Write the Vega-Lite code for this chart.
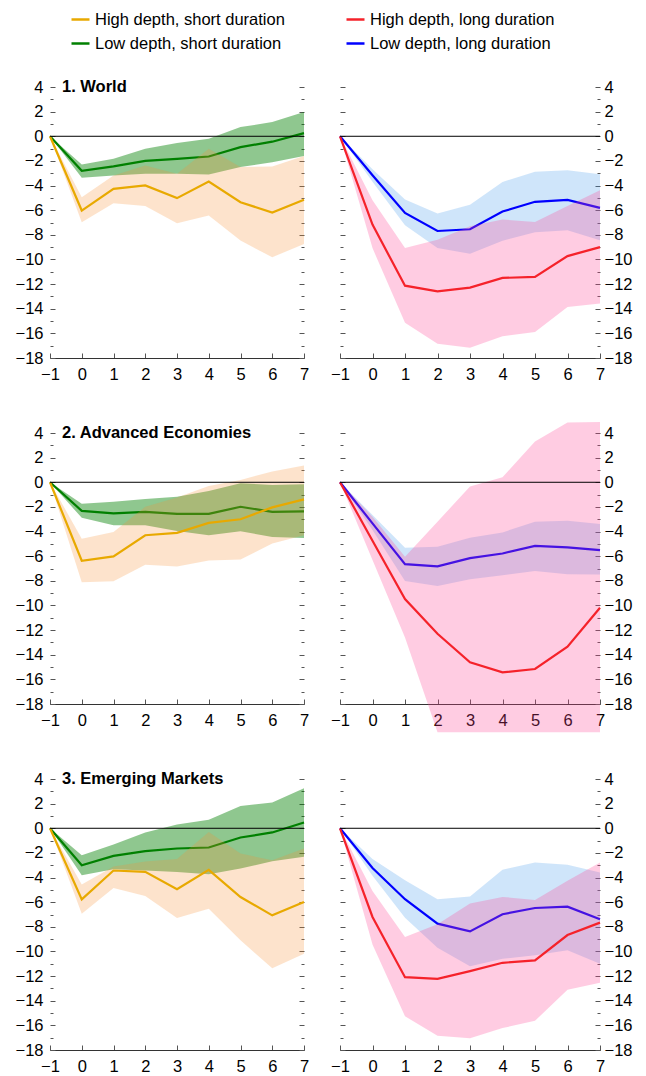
{
  "$schema": "https://vega.github.io/schema/vega-lite/v6.json",
  "padding": {"left": 15, "top": 9, "right": 5, "bottom": 5},
  "columns": 2,
  "bounds": "flush",
  "align": "each",
  "spacing": {"row": 75, "column": 36},
  "datasets": {
    "irf": [
      {"region": "World", "series": "Low depth, short duration", "horizon": -1, "est": 0, "lo": 0, "hi": 0},
      {"region": "World", "series": "Low depth, short duration", "horizon": 0, "est": -2.8, "lo": -3.37, "hi": -2.29},
      {"region": "World", "series": "Low depth, short duration", "horizon": 1, "est": -2.45, "lo": -3.18, "hi": -1.83},
      {"region": "World", "series": "Low depth, short duration", "horizon": 2, "est": -2.0, "lo": -3.05, "hi": -1.01},
      {"region": "World", "series": "Low depth, short duration", "horizon": 3, "est": -1.83, "lo": -3.05, "hi": -0.55},
      {"region": "World", "series": "Low depth, short duration", "horizon": 4, "est": -1.64, "lo": -3.1, "hi": -0.2},
      {"region": "World", "series": "Low depth, short duration", "horizon": 5, "est": -0.88, "lo": -2.5, "hi": 0.75},
      {"region": "World", "series": "Low depth, short duration", "horizon": 6, "est": -0.44, "lo": -2.1, "hi": 1.15},
      {"region": "World", "series": "Low depth, short duration", "horizon": 7, "est": 0.26, "lo": -1.6, "hi": 1.97},
      {"region": "World", "series": "High depth, short duration", "horizon": -1, "est": 0, "lo": 0, "hi": 0},
      {"region": "World", "series": "High depth, short duration", "horizon": 0, "est": -6.03, "lo": -6.98, "hi": -4.94},
      {"region": "World", "series": "High depth, short duration", "horizon": 1, "est": -4.27, "lo": -5.43, "hi": -3.18},
      {"region": "World", "series": "High depth, short duration", "horizon": 2, "est": -3.99, "lo": -5.67, "hi": -2.37},
      {"region": "World", "series": "High depth, short duration", "horizon": 3, "est": -5.02, "lo": -7.06, "hi": -3.05},
      {"region": "World", "series": "High depth, short duration", "horizon": 4, "est": -3.67, "lo": -6.43, "hi": -1.01},
      {"region": "World", "series": "High depth, short duration", "horizon": 5, "est": -5.35, "lo": -8.47, "hi": -2.5},
      {"region": "World", "series": "High depth, short duration", "horizon": 6, "est": -6.19, "lo": -9.82, "hi": -2.45},
      {"region": "World", "series": "High depth, short duration", "horizon": 7, "est": -5.16, "lo": -8.74, "hi": -1.6},
      {"region": "World", "series": "Low depth, long duration", "horizon": -1, "est": 0, "lo": 0, "hi": 0},
      {"region": "World", "series": "Low depth, long duration", "horizon": 0, "est": -3.17, "lo": -3.7, "hi": -2.68},
      {"region": "World", "series": "Low depth, long duration", "horizon": 1, "est": -6.22, "lo": -7.23, "hi": -5.13},
      {"region": "World", "series": "Low depth, long duration", "horizon": 2, "est": -7.69, "lo": -9.08, "hi": -6.27},
      {"region": "World", "series": "Low depth, long duration", "horizon": 3, "est": -7.55, "lo": -9.54, "hi": -5.56},
      {"region": "World", "series": "Low depth, long duration", "horizon": 4, "est": -6.11, "lo": -8.48, "hi": -3.71},
      {"region": "World", "series": "Low depth, long duration", "horizon": 5, "est": -5.32, "lo": -7.8, "hi": -2.87},
      {"region": "World", "series": "Low depth, long duration", "horizon": 6, "est": -5.16, "lo": -7.63, "hi": -2.76},
      {"region": "World", "series": "Low depth, long duration", "horizon": 7, "est": -5.81, "lo": -8.45, "hi": -3.08},
      {"region": "World", "series": "High depth, long duration", "horizon": -1, "est": 0, "lo": 0, "hi": 0},
      {"region": "World", "series": "High depth, long duration", "horizon": 0, "est": -7.17, "lo": -9.08, "hi": -5.2},
      {"region": "World", "series": "High depth, long duration", "horizon": 1, "est": -12.13, "lo": -15.13, "hi": -9.08},
      {"region": "World", "series": "High depth, long duration", "horizon": 2, "est": -12.59, "lo": -16.84, "hi": -8.4},
      {"region": "World", "series": "High depth, long duration", "horizon": 3, "est": -12.29, "lo": -17.17, "hi": -7.3},
      {"region": "World", "series": "High depth, long duration", "horizon": 4, "est": -11.5, "lo": -16.24, "hi": -6.76},
      {"region": "World", "series": "High depth, long duration", "horizon": 5, "est": -11.42, "lo": -15.89, "hi": -6.95},
      {"region": "World", "series": "High depth, long duration", "horizon": 6, "est": -9.73, "lo": -13.85, "hi": -5.67},
      {"region": "World", "series": "High depth, long duration", "horizon": 7, "est": -9.0, "lo": -13.57, "hi": -4.39},

      {"region": "AE", "series": "Low depth, short duration", "horizon": -1, "est": 0, "lo": 0, "hi": 0},
      {"region": "AE", "series": "Low depth, short duration", "horizon": 0, "est": -2.32, "lo": -2.89, "hi": -1.74},
      {"region": "AE", "series": "Low depth, short duration", "horizon": 1, "est": -2.53, "lo": -3.49, "hi": -1.58},
      {"region": "AE", "series": "Low depth, short duration", "horizon": 2, "est": -2.4, "lo": -3.49, "hi": -1.36},
      {"region": "AE", "series": "Low depth, short duration", "horizon": 3, "est": -2.56, "lo": -3.95, "hi": -1.17},
      {"region": "AE", "series": "Low depth, short duration", "horizon": 4, "est": -2.56, "lo": -4.3, "hi": -0.71},
      {"region": "AE", "series": "Low depth, short duration", "horizon": 5, "est": -1.99, "lo": -3.98, "hi": -0.08},
      {"region": "AE", "series": "Low depth, short duration", "horizon": 6, "est": -2.4, "lo": -4.44, "hi": -0.22},
      {"region": "AE", "series": "Low depth, short duration", "horizon": 7, "est": -2.37, "lo": -4.52, "hi": -0.17},
      {"region": "AE", "series": "High depth, short duration", "horizon": -1, "est": 0, "lo": 0, "hi": 0},
      {"region": "AE", "series": "High depth, short duration", "horizon": 0, "est": -6.37, "lo": -8.12, "hi": -4.58},
      {"region": "AE", "series": "High depth, short duration", "horizon": 1, "est": -6.02, "lo": -8.03, "hi": -4.03},
      {"region": "AE", "series": "High depth, short duration", "horizon": 2, "est": -4.3, "lo": -6.7, "hi": -1.99},
      {"region": "AE", "series": "High depth, short duration", "horizon": 3, "est": -4.11, "lo": -6.84, "hi": -1.23},
      {"region": "AE", "series": "High depth, short duration", "horizon": 4, "est": -3.3, "lo": -6.35, "hi": -0.3},
      {"region": "AE", "series": "High depth, short duration", "horizon": 5, "est": -3.0, "lo": -6.26, "hi": 0.19},
      {"region": "AE", "series": "High depth, short duration", "horizon": 6, "est": -2.04, "lo": -4.98, "hi": 0.87},
      {"region": "AE", "series": "High depth, short duration", "horizon": 7, "est": -1.39, "lo": -4.3, "hi": 1.36},
      {"region": "AE", "series": "Low depth, long duration", "horizon": -1, "est": 0, "lo": 0, "hi": 0},
      {"region": "AE", "series": "Low depth, long duration", "horizon": 0, "est": -3.34, "lo": -3.88, "hi": -2.66},
      {"region": "AE", "series": "Low depth, long duration", "horizon": 1, "est": -6.65, "lo": -8.01, "hi": -5.32},
      {"region": "AE", "series": "Low depth, long duration", "horizon": 2, "est": -6.82, "lo": -8.42, "hi": -5.24},
      {"region": "AE", "series": "Low depth, long duration", "horizon": 3, "est": -6.16, "lo": -7.88, "hi": -4.5},
      {"region": "AE", "series": "Low depth, long duration", "horizon": 4, "est": -5.78, "lo": -7.55, "hi": -4.07},
      {"region": "AE", "series": "Low depth, long duration", "horizon": 5, "est": -5.16, "lo": -7.2, "hi": -3.2},
      {"region": "AE", "series": "Low depth, long duration", "horizon": 6, "est": -5.29, "lo": -7.47, "hi": -3.12},
      {"region": "AE", "series": "Low depth, long duration", "horizon": 7, "est": -5.51, "lo": -7.49, "hi": -3.39},
      {"region": "AE", "series": "High depth, long duration", "horizon": -1, "est": 0, "lo": 0, "hi": 0},
      {"region": "AE", "series": "High depth, long duration", "horizon": 0, "est": -4.75, "lo": -6.3, "hi": -2.8},
      {"region": "AE", "series": "High depth, long duration", "horizon": 1, "est": -9.48, "lo": -12.6, "hi": -6.05},
      {"region": "AE", "series": "High depth, long duration", "horizon": 2, "est": -12.3, "lo": -20.3, "hi": -3.2},
      {"region": "AE", "series": "High depth, long duration", "horizon": 3, "est": -14.61, "lo": -20.3, "hi": -0.35},
      {"region": "AE", "series": "High depth, long duration", "horizon": 4, "est": -15.43, "lo": -20.3, "hi": 0.41},
      {"region": "AE", "series": "High depth, long duration", "horizon": 5, "est": -15.16, "lo": -20.3, "hi": 3.32},
      {"region": "AE", "series": "High depth, long duration", "horizon": 6, "est": -13.34, "lo": -20.3, "hi": 4.85},
      {"region": "AE", "series": "High depth, long duration", "horizon": 7, "est": -10.18, "lo": -20.3, "hi": 4.9},

      {"region": "EM", "series": "Low depth, short duration", "horizon": -1, "est": 0, "lo": 0, "hi": 0},
      {"region": "EM", "series": "Low depth, short duration", "horizon": 0, "est": -3.0, "lo": -3.81, "hi": -2.19},
      {"region": "EM", "series": "Low depth, short duration", "horizon": 1, "est": -2.24, "lo": -3.32, "hi": -1.32},
      {"region": "EM", "series": "Low depth, short duration", "horizon": 2, "est": -1.86, "lo": -3.43, "hi": -0.34},
      {"region": "EM", "series": "Low depth, short duration", "horizon": 3, "est": -1.64, "lo": -3.54, "hi": 0.31},
      {"region": "EM", "series": "Low depth, short duration", "horizon": 4, "est": -1.56, "lo": -3.73, "hi": 0.69},
      {"region": "EM", "series": "Low depth, short duration", "horizon": 5, "est": -0.75, "lo": -3.27, "hi": 1.8},
      {"region": "EM", "series": "Low depth, short duration", "horizon": 6, "est": -0.34, "lo": -2.67, "hi": 2.1},
      {"region": "EM", "series": "Low depth, short duration", "horizon": 7, "est": 0.47, "lo": -2.32, "hi": 3.24},
      {"region": "EM", "series": "High depth, short duration", "horizon": -1, "est": 0, "lo": 0, "hi": 0},
      {"region": "EM", "series": "High depth, short duration", "horizon": 0, "est": -5.77, "lo": -6.93, "hi": -4.57},
      {"region": "EM", "series": "High depth, short duration", "horizon": 1, "est": -3.43, "lo": -4.84, "hi": -3.1},
      {"region": "EM", "series": "High depth, short duration", "horizon": 2, "est": -3.54, "lo": -5.5, "hi": -2.7},
      {"region": "EM", "series": "High depth, short duration", "horizon": 3, "est": -4.95, "lo": -7.29, "hi": -2.5},
      {"region": "EM", "series": "High depth, short duration", "horizon": 4, "est": -3.38, "lo": -6.53, "hi": -0.3},
      {"region": "EM", "series": "High depth, short duration", "horizon": 5, "est": -5.58, "lo": -9.1, "hi": -2.05},
      {"region": "EM", "series": "High depth, short duration", "horizon": 6, "est": -7.07, "lo": -11.36, "hi": -2.6},
      {"region": "EM", "series": "High depth, short duration", "horizon": 7, "est": -5.98, "lo": -10.19, "hi": -1.65},
      {"region": "EM", "series": "Low depth, long duration", "horizon": -1, "est": 0, "lo": 0, "hi": 0},
      {"region": "EM", "series": "Low depth, long duration", "horizon": 0, "est": -3.23, "lo": -3.86, "hi": -2.5},
      {"region": "EM", "series": "Low depth, long duration", "horizon": 1, "est": -5.76, "lo": -7.26, "hi": -4.21},
      {"region": "EM", "series": "Low depth, long duration", "horizon": 2, "est": -7.74, "lo": -9.7, "hi": -5.76},
      {"region": "EM", "series": "Low depth, long duration", "horizon": 3, "est": -8.37, "lo": -11.2, "hi": -5.54},
      {"region": "EM", "series": "Low depth, long duration", "horizon": 4, "est": -6.98, "lo": -10.6, "hi": -3.37},
      {"region": "EM", "series": "Low depth, long duration", "horizon": 5, "est": -6.47, "lo": -10.3, "hi": -2.77},
      {"region": "EM", "series": "Low depth, long duration", "horizon": 6, "est": -6.36, "lo": -9.9, "hi": -2.96},
      {"region": "EM", "series": "Low depth, long duration", "horizon": 7, "est": -7.39, "lo": -11.0, "hi": -3.59},
      {"region": "EM", "series": "High depth, long duration", "horizon": -1, "est": 0, "lo": 0, "hi": 0},
      {"region": "EM", "series": "High depth, long duration", "horizon": 0, "est": -7.2, "lo": -9.43, "hi": -5.1},
      {"region": "EM", "series": "High depth, long duration", "horizon": 1, "est": -12.09, "lo": -15.27, "hi": -8.83},
      {"region": "EM", "series": "High depth, long duration", "horizon": 2, "est": -12.23, "lo": -16.85, "hi": -7.8},
      {"region": "EM", "series": "High depth, long duration", "horizon": 3, "est": -11.6, "lo": -17.04, "hi": -6.11},
      {"region": "EM", "series": "High depth, long duration", "horizon": 4, "est": -10.92, "lo": -16.22, "hi": -5.57},
      {"region": "EM", "series": "High depth, long duration", "horizon": 5, "est": -10.73, "lo": -15.63, "hi": -5.82},
      {"region": "EM", "series": "High depth, long duration", "horizon": 6, "est": -8.67, "lo": -13.1, "hi": -4.27},
      {"region": "EM", "series": "High depth, long duration", "horizon": 7, "est": -7.66, "lo": -12.55, "hi": -2.77}
    ]
  },
  "concat": [
    {
      "title": "1. World", "width": 254, "height": 271,
      "data": {"name": "irf"},
      "transform": [{"filter": "datum.region == 'World'"}],
      "resolve": {"axis": {"y": "independent"}},
      "layer": [
        {"transform": [{"filter": "datum.series == 'Low depth, short duration'"}], "mark": {"type": "area", "fill": "#008000", "fillOpacity": 0.44},
         "encoding": {"x": {"field": "horizon", "type": "quantitative", "title": null, "scale": {"domain": [-1, 7], "nice": false, "zero": false}},
           "y": {"field": "lo", "type": "quantitative", "title": null, "scale": {"domain": [-18, 4], "nice": false, "zero": false},
             "axis": {"orient": "left", "values": [-18,-17,-16,-15,-14,-13,-12,-11,-10,-9,-8,-7,-6,-5,-4,-3,-2,-1,0,1,2,3,4], "labelExpr": "datum.value % 2 ? '' : datum.label", "tickSize": {"condition": {"test": "datum.value % 2 != 0", "value": -3}, "value": -5}, "labelPadding": 12}},
           "y2": {"field": "hi"}}},
        {"transform": [{"filter": "datum.series == 'Low depth, short duration'"}], "mark": {"type": "line", "strokeWidth": 2.2},
         "encoding": {"x": {"field": "horizon", "type": "quantitative", "title": null, "scale": {"domain": [-1, 7], "nice": false, "zero": false}},
           "y": {"field": "est", "type": "quantitative", "title": null, "scale": {"domain": [-18, 4], "nice": false, "zero": false},
             "axis": {"orient": "right", "values": [-18,-17,-16,-15,-14,-13,-12,-11,-10,-9,-8,-7,-6,-5,-4,-3,-2,-1,0,1,2,3,4], "labels": false, "tickSize": {"condition": {"test": "datum.value % 2 != 0", "value": -3}, "value": -5}}},
           "stroke": {"field": "series", "type": "nominal", "title": null, "scale": {"domain": ["High depth, short duration", "Low depth, short duration", "High depth, long duration", "Low depth, long duration"], "range": ["#E8A900", "#008000", "#F5222A", "#0000FF"]},
             "legend": {"orient": "none", "legendX": 20, "legendY": -78, "columns": 2}}}},
        {"transform": [{"filter": "datum.series == 'High depth, short duration'"}], "mark": {"type": "area", "fill": "#F78F33", "fillOpacity": 0.25},
         "encoding": {"x": {"field": "horizon", "type": "quantitative", "title": null, "scale": {"domain": [-1, 7], "nice": false, "zero": false}},
           "y": {"field": "lo", "type": "quantitative", "title": null, "scale": {"domain": [-18, 4], "nice": false, "zero": false}, "axis": null},
           "y2": {"field": "hi"}}},
        {"transform": [{"filter": "datum.series == 'High depth, short duration'"}], "mark": {"type": "line", "strokeWidth": 2.2},
         "encoding": {"x": {"field": "horizon", "type": "quantitative", "title": null, "scale": {"domain": [-1, 7], "nice": false, "zero": false}},
           "y": {"field": "est", "type": "quantitative", "title": null, "scale": {"domain": [-18, 4], "nice": false, "zero": false}, "axis": null},
           "stroke": {"field": "series", "type": "nominal", "title": null}}},
        {"data": {"values": [{}]}, "mark": {"type": "rule", "color": "black", "strokeWidth": 1},
         "encoding": {"y": {"datum": 0, "scale": {"domain": [-18, 4], "nice": false, "zero": false}, "axis": null}}}
      ]
    },
    {
      "width": 260, "height": 271,
      "data": {"name": "irf"},
      "transform": [{"filter": "datum.region == 'World'"}],
      "resolve": {"axis": {"y": "independent"}},
      "layer": [
        {"transform": [{"filter": "datum.series == 'Low depth, long duration'"}], "mark": {"type": "area", "fill": "#3F97EB", "fillOpacity": 0.25},
         "encoding": {"x": {"field": "horizon", "type": "quantitative", "title": null, "scale": {"domain": [-1, 7], "nice": false, "zero": false}},
           "y": {"field": "lo", "type": "quantitative", "title": null, "scale": {"domain": [-18, 4], "nice": false, "zero": false},
             "axis": {"orient": "left", "values": [-18,-17,-16,-15,-14,-13,-12,-11,-10,-9,-8,-7,-6,-5,-4,-3,-2,-1,0,1,2,3,4], "labels": false, "tickSize": {"condition": {"test": "datum.value % 2 != 0", "value": -3}, "value": -5}}},
           "y2": {"field": "hi"}}},
        {"transform": [{"filter": "datum.series == 'Low depth, long duration'"}], "mark": {"type": "line", "strokeWidth": 2.2},
         "encoding": {"x": {"field": "horizon", "type": "quantitative", "title": null, "scale": {"domain": [-1, 7], "nice": false, "zero": false}},
           "y": {"field": "est", "type": "quantitative", "title": null, "scale": {"domain": [-18, 4], "nice": false, "zero": false},
             "axis": {"orient": "right", "values": [-18,-17,-16,-15,-14,-13,-12,-11,-10,-9,-8,-7,-6,-5,-4,-3,-2,-1,0,1,2,3,4], "labelExpr": "datum.value % 2 ? '' : datum.label", "tickSize": {"condition": {"test": "datum.value % 2 != 0", "value": -3}, "value": -5}, "labelPadding": 9}},
           "stroke": {"field": "series", "type": "nominal", "title": null}}},
        {"transform": [{"filter": "datum.series == 'High depth, long duration'"}], "mark": {"type": "area", "fill": "#FF4294", "fillOpacity": 0.27},
         "encoding": {"x": {"field": "horizon", "type": "quantitative", "title": null, "scale": {"domain": [-1, 7], "nice": false, "zero": false}},
           "y": {"field": "lo", "type": "quantitative", "title": null, "scale": {"domain": [-18, 4], "nice": false, "zero": false}, "axis": null},
           "y2": {"field": "hi"}}},
        {"transform": [{"filter": "datum.series == 'High depth, long duration'"}], "mark": {"type": "line", "strokeWidth": 2.2},
         "encoding": {"x": {"field": "horizon", "type": "quantitative", "title": null, "scale": {"domain": [-1, 7], "nice": false, "zero": false}},
           "y": {"field": "est", "type": "quantitative", "title": null, "scale": {"domain": [-18, 4], "nice": false, "zero": false}, "axis": null},
           "stroke": {"field": "series", "type": "nominal", "title": null}}},
        {"data": {"values": [{}]}, "mark": {"type": "rule", "color": "black", "strokeWidth": 1},
         "encoding": {"y": {"datum": 0, "scale": {"domain": [-18, 4], "nice": false, "zero": false}, "axis": null}}}
      ]
    },
    {
      "title": "2. Advanced Economies", "width": 254, "height": 271,
      "data": {"name": "irf"},
      "transform": [{"filter": "datum.region == 'AE'"}],
      "resolve": {"axis": {"y": "independent"}},
      "layer": [
        {"transform": [{"filter": "datum.series == 'Low depth, short duration'"}], "mark": {"type": "area", "fill": "#008000", "fillOpacity": 0.44},
         "encoding": {"x": {"field": "horizon", "type": "quantitative", "title": null, "scale": {"domain": [-1, 7], "nice": false, "zero": false}},
           "y": {"field": "lo", "type": "quantitative", "title": null, "scale": {"domain": [-18, 4], "nice": false, "zero": false},
             "axis": {"orient": "left", "values": [-18,-17,-16,-15,-14,-13,-12,-11,-10,-9,-8,-7,-6,-5,-4,-3,-2,-1,0,1,2,3,4], "labelExpr": "datum.value % 2 ? '' : datum.label", "tickSize": {"condition": {"test": "datum.value % 2 != 0", "value": -3}, "value": -5}, "labelPadding": 12}},
           "y2": {"field": "hi"}}},
        {"transform": [{"filter": "datum.series == 'Low depth, short duration'"}], "mark": {"type": "line", "strokeWidth": 2.2},
         "encoding": {"x": {"field": "horizon", "type": "quantitative", "title": null, "scale": {"domain": [-1, 7], "nice": false, "zero": false}},
           "y": {"field": "est", "type": "quantitative", "title": null, "scale": {"domain": [-18, 4], "nice": false, "zero": false},
             "axis": {"orient": "right", "values": [-18,-17,-16,-15,-14,-13,-12,-11,-10,-9,-8,-7,-6,-5,-4,-3,-2,-1,0,1,2,3,4], "labels": false, "tickSize": {"condition": {"test": "datum.value % 2 != 0", "value": -3}, "value": -5}}},
           "stroke": {"field": "series", "type": "nominal", "title": null}}},
        {"transform": [{"filter": "datum.series == 'High depth, short duration'"}], "mark": {"type": "area", "fill": "#F78F33", "fillOpacity": 0.25},
         "encoding": {"x": {"field": "horizon", "type": "quantitative", "title": null, "scale": {"domain": [-1, 7], "nice": false, "zero": false}},
           "y": {"field": "lo", "type": "quantitative", "title": null, "scale": {"domain": [-18, 4], "nice": false, "zero": false}, "axis": null},
           "y2": {"field": "hi"}}},
        {"transform": [{"filter": "datum.series == 'High depth, short duration'"}], "mark": {"type": "line", "strokeWidth": 2.2},
         "encoding": {"x": {"field": "horizon", "type": "quantitative", "title": null, "scale": {"domain": [-1, 7], "nice": false, "zero": false}},
           "y": {"field": "est", "type": "quantitative", "title": null, "scale": {"domain": [-18, 4], "nice": false, "zero": false}, "axis": null},
           "stroke": {"field": "series", "type": "nominal", "title": null}}},
        {"data": {"values": [{}]}, "mark": {"type": "rule", "color": "black", "strokeWidth": 1},
         "encoding": {"y": {"datum": 0, "scale": {"domain": [-18, 4], "nice": false, "zero": false}, "axis": null}}}
      ]
    },
    {
      "width": 260, "height": 271,
      "data": {"name": "irf"},
      "transform": [{"filter": "datum.region == 'AE'"}],
      "resolve": {"axis": {"y": "independent"}},
      "layer": [
        {"transform": [{"filter": "datum.series == 'Low depth, long duration'"}], "mark": {"type": "area", "fill": "#3F97EB", "fillOpacity": 0.25},
         "encoding": {"x": {"field": "horizon", "type": "quantitative", "title": null, "scale": {"domain": [-1, 7], "nice": false, "zero": false}},
           "y": {"field": "lo", "type": "quantitative", "title": null, "scale": {"domain": [-18, 4], "nice": false, "zero": false},
             "axis": {"orient": "left", "values": [-18,-17,-16,-15,-14,-13,-12,-11,-10,-9,-8,-7,-6,-5,-4,-3,-2,-1,0,1,2,3,4], "labels": false, "tickSize": {"condition": {"test": "datum.value % 2 != 0", "value": -3}, "value": -5}}},
           "y2": {"field": "hi"}}},
        {"transform": [{"filter": "datum.series == 'Low depth, long duration'"}], "mark": {"type": "line", "strokeWidth": 2.2},
         "encoding": {"x": {"field": "horizon", "type": "quantitative", "title": null, "scale": {"domain": [-1, 7], "nice": false, "zero": false}},
           "y": {"field": "est", "type": "quantitative", "title": null, "scale": {"domain": [-18, 4], "nice": false, "zero": false},
             "axis": {"orient": "right", "values": [-18,-17,-16,-15,-14,-13,-12,-11,-10,-9,-8,-7,-6,-5,-4,-3,-2,-1,0,1,2,3,4], "labelExpr": "datum.value % 2 ? '' : datum.label", "tickSize": {"condition": {"test": "datum.value % 2 != 0", "value": -3}, "value": -5}, "labelPadding": 9}},
           "stroke": {"field": "series", "type": "nominal", "title": null}}},
        {"transform": [{"filter": "datum.series == 'High depth, long duration'"}], "mark": {"type": "area", "fill": "#FF4294", "fillOpacity": 0.27},
         "encoding": {"x": {"field": "horizon", "type": "quantitative", "title": null, "scale": {"domain": [-1, 7], "nice": false, "zero": false}},
           "y": {"field": "lo", "type": "quantitative", "title": null, "scale": {"domain": [-18, 4], "nice": false, "zero": false}, "axis": null},
           "y2": {"field": "hi"}}},
        {"transform": [{"filter": "datum.series == 'High depth, long duration'"}], "mark": {"type": "line", "strokeWidth": 2.2},
         "encoding": {"x": {"field": "horizon", "type": "quantitative", "title": null, "scale": {"domain": [-1, 7], "nice": false, "zero": false}},
           "y": {"field": "est", "type": "quantitative", "title": null, "scale": {"domain": [-18, 4], "nice": false, "zero": false}, "axis": null},
           "stroke": {"field": "series", "type": "nominal", "title": null}}},
        {"data": {"values": [{}]}, "mark": {"type": "rule", "color": "black", "strokeWidth": 1},
         "encoding": {"y": {"datum": 0, "scale": {"domain": [-18, 4], "nice": false, "zero": false}, "axis": null}}}
      ]
    },
    {
      "title": "3. Emerging Markets", "width": 254, "height": 271,
      "data": {"name": "irf"},
      "transform": [{"filter": "datum.region == 'EM'"}],
      "resolve": {"axis": {"y": "independent"}},
      "layer": [
        {"transform": [{"filter": "datum.series == 'Low depth, short duration'"}], "mark": {"type": "area", "fill": "#008000", "fillOpacity": 0.44},
         "encoding": {"x": {"field": "horizon", "type": "quantitative", "title": null, "scale": {"domain": [-1, 7], "nice": false, "zero": false}},
           "y": {"field": "lo", "type": "quantitative", "title": null, "scale": {"domain": [-18, 4], "nice": false, "zero": false},
             "axis": {"orient": "left", "values": [-18,-17,-16,-15,-14,-13,-12,-11,-10,-9,-8,-7,-6,-5,-4,-3,-2,-1,0,1,2,3,4], "labelExpr": "datum.value % 2 ? '' : datum.label", "tickSize": {"condition": {"test": "datum.value % 2 != 0", "value": -3}, "value": -5}, "labelPadding": 12}},
           "y2": {"field": "hi"}}},
        {"transform": [{"filter": "datum.series == 'Low depth, short duration'"}], "mark": {"type": "line", "strokeWidth": 2.2},
         "encoding": {"x": {"field": "horizon", "type": "quantitative", "title": null, "scale": {"domain": [-1, 7], "nice": false, "zero": false}},
           "y": {"field": "est", "type": "quantitative", "title": null, "scale": {"domain": [-18, 4], "nice": false, "zero": false},
             "axis": {"orient": "right", "values": [-18,-17,-16,-15,-14,-13,-12,-11,-10,-9,-8,-7,-6,-5,-4,-3,-2,-1,0,1,2,3,4], "labels": false, "tickSize": {"condition": {"test": "datum.value % 2 != 0", "value": -3}, "value": -5}}},
           "stroke": {"field": "series", "type": "nominal", "title": null}}},
        {"transform": [{"filter": "datum.series == 'High depth, short duration'"}], "mark": {"type": "area", "fill": "#F78F33", "fillOpacity": 0.25},
         "encoding": {"x": {"field": "horizon", "type": "quantitative", "title": null, "scale": {"domain": [-1, 7], "nice": false, "zero": false}},
           "y": {"field": "lo", "type": "quantitative", "title": null, "scale": {"domain": [-18, 4], "nice": false, "zero": false}, "axis": null},
           "y2": {"field": "hi"}}},
        {"transform": [{"filter": "datum.series == 'High depth, short duration'"}], "mark": {"type": "line", "strokeWidth": 2.2},
         "encoding": {"x": {"field": "horizon", "type": "quantitative", "title": null, "scale": {"domain": [-1, 7], "nice": false, "zero": false}},
           "y": {"field": "est", "type": "quantitative", "title": null, "scale": {"domain": [-18, 4], "nice": false, "zero": false}, "axis": null},
           "stroke": {"field": "series", "type": "nominal", "title": null}}},
        {"data": {"values": [{}]}, "mark": {"type": "rule", "color": "black", "strokeWidth": 1},
         "encoding": {"y": {"datum": 0, "scale": {"domain": [-18, 4], "nice": false, "zero": false}, "axis": null}}}
      ]
    },
    {
      "width": 260, "height": 271,
      "data": {"name": "irf"},
      "transform": [{"filter": "datum.region == 'EM'"}],
      "resolve": {"axis": {"y": "independent"}},
      "layer": [
        {"transform": [{"filter": "datum.series == 'Low depth, long duration'"}], "mark": {"type": "area", "fill": "#3F97EB", "fillOpacity": 0.25},
         "encoding": {"x": {"field": "horizon", "type": "quantitative", "title": null, "scale": {"domain": [-1, 7], "nice": false, "zero": false}},
           "y": {"field": "lo", "type": "quantitative", "title": null, "scale": {"domain": [-18, 4], "nice": false, "zero": false},
             "axis": {"orient": "left", "values": [-18,-17,-16,-15,-14,-13,-12,-11,-10,-9,-8,-7,-6,-5,-4,-3,-2,-1,0,1,2,3,4], "labels": false, "tickSize": {"condition": {"test": "datum.value % 2 != 0", "value": -3}, "value": -5}}},
           "y2": {"field": "hi"}}},
        {"transform": [{"filter": "datum.series == 'Low depth, long duration'"}], "mark": {"type": "line", "strokeWidth": 2.2},
         "encoding": {"x": {"field": "horizon", "type": "quantitative", "title": null, "scale": {"domain": [-1, 7], "nice": false, "zero": false}},
           "y": {"field": "est", "type": "quantitative", "title": null, "scale": {"domain": [-18, 4], "nice": false, "zero": false},
             "axis": {"orient": "right", "values": [-18,-17,-16,-15,-14,-13,-12,-11,-10,-9,-8,-7,-6,-5,-4,-3,-2,-1,0,1,2,3,4], "labelExpr": "datum.value % 2 ? '' : datum.label", "tickSize": {"condition": {"test": "datum.value % 2 != 0", "value": -3}, "value": -5}, "labelPadding": 9}},
           "stroke": {"field": "series", "type": "nominal", "title": null}}},
        {"transform": [{"filter": "datum.series == 'High depth, long duration'"}], "mark": {"type": "area", "fill": "#FF4294", "fillOpacity": 0.27},
         "encoding": {"x": {"field": "horizon", "type": "quantitative", "title": null, "scale": {"domain": [-1, 7], "nice": false, "zero": false}},
           "y": {"field": "lo", "type": "quantitative", "title": null, "scale": {"domain": [-18, 4], "nice": false, "zero": false}, "axis": null},
           "y2": {"field": "hi"}}},
        {"transform": [{"filter": "datum.series == 'High depth, long duration'"}], "mark": {"type": "line", "strokeWidth": 2.2},
         "encoding": {"x": {"field": "horizon", "type": "quantitative", "title": null, "scale": {"domain": [-1, 7], "nice": false, "zero": false}},
           "y": {"field": "est", "type": "quantitative", "title": null, "scale": {"domain": [-18, 4], "nice": false, "zero": false}, "axis": null},
           "stroke": {"field": "series", "type": "nominal", "title": null}}},
        {"data": {"values": [{}]}, "mark": {"type": "rule", "color": "black", "strokeWidth": 1},
         "encoding": {"y": {"datum": 0, "scale": {"domain": [-18, 4], "nice": false, "zero": false}, "axis": null}}}
      ]
    }
  ],
  "config": {
    "view": {"stroke": null},
    "font": "Liberation Sans",
    "axis": {"domain": false, "grid": false, "tickColor": "#555555", "tickWidth": 1, "labelFont": "Liberation Sans", "labelFontSize": 16.5, "labelColor": "black", "labelOverlap": false, "labelBound": false, "labelFlush": false},
    "axisX": {"domain": true, "domainColor": "#333333", "domainWidth": 1, "tickSize": -5, "labelPadding": 13, "tickCount": 8, "labelAngle": 0},
    "legend": {"symbolType": "stroke", "symbolSize": 324, "symbolStrokeWidth": 2.5, "labelFont": "Liberation Sans", "labelFontSize": 16.5, "labelColor": "black", "labelOffset": 4, "labelLimit": 0, "columnPadding": 56, "rowPadding": 5, "padding": 0},
    "title": {"anchor": "start", "frame": "group", "offset": -16, "dx": 12, "baseline": "middle", "font": "Liberation Sans", "fontSize": 16.5, "fontWeight": "bold", "color": "black"}
  }
}
